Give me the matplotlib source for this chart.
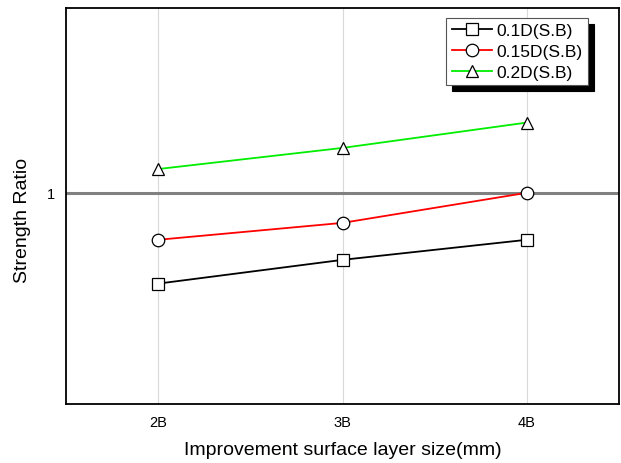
import matplotlib
matplotlib.use("Agg")
import matplotlib.pyplot as plt

plt.rcParams['font.family'] = ['Liberation Sans', 'DejaVu Sans']

# data
sizes = ['2B', '3B', '4B']
ratio_01d = [0.828, 0.873, 0.911]
ratio_015d = [0.911, 0.943, 1.0]
ratio_02d = [1.045, 1.085, 1.133]
labels = ['0.1D(S.B)', '0.15D(S.B)', '0.2D(S.B)']

fig = plt.figure(figsize=(6.21, 4.64), dpi=100)
ax = fig.add_axes([0.1063, 0.1272, 0.8905, 0.8534])

x = range(len(sizes))
for xi in x:
    ax.axvline(xi, color='#d9d9d9', lw=0.8, zorder=0)
ax.axhline(1.0, color='#808080', lw=2.2, zorder=1)

mk = dict(markersize=9, markerfacecolor='white', markeredgecolor='black',
          markeredgewidth=0.9, lw=1.3, zorder=3)
ax.plot(x, ratio_01d, color='black', marker='s', label=labels[0], **mk)
ax.plot(x, ratio_015d, color='red', marker='o', label=labels[1], **mk)
ax.plot(x, ratio_02d, color='#00ee00', marker='^', label=labels[2], **mk)

ax.set_xlim(-0.5, 2.5)
ax.set_ylim(0.6, 1.35)
ax.set_xticks(list(x))
ax.set_xticklabels(sizes, fontsize=10.5)
ax.set_yticks([1.0])
ax.set_yticklabels(['1'], fontsize=10.5)
ax.tick_params(length=0, pad=8)
for s in ax.spines.values():
    s.set_linewidth(1.3)

ax.set_xlabel('Improvement surface layer size(mm)', fontsize=14)
ax.xaxis.set_label_coords(0.5, -0.093)
ax.set_ylabel('Strength Ratio', fontsize=14)
ax.yaxis.set_label_coords(-0.063, 0.467)

leg = ax.legend(loc='upper right', bbox_to_anchor=(0.944, 0.975), fontsize=12.5,
                fancybox=False, framealpha=1, edgecolor='#555555',
                handlelength=2.3, labelspacing=0.32, borderpad=0.3,
                handletextpad=0.3, borderaxespad=0,
                shadow={'ox': 4.3, 'oy': -4.3, 'color': 'black', 'alpha': 1})
leg.get_frame().set_linewidth(0.8)

fig.savefig('out.png', dpi=100)
